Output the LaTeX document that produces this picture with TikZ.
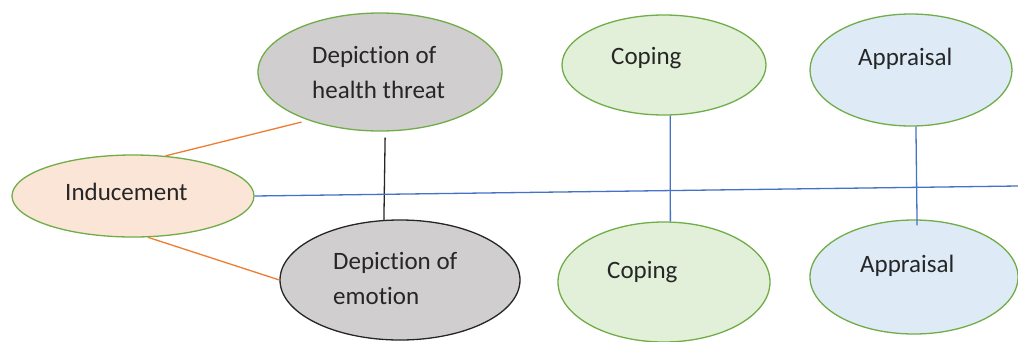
\documentclass[tikz,border=0pt]{standalone}
\usepackage{fontspec}
\setmainfont{Carlito}[Ligatures={NoCommon}]
\usetikzlibrary{shapes.geometric,calc}
\definecolor{egreen}{HTML}{70AD47}
\definecolor{peach}{HTML}{FBE5D6}
\definecolor{lgray}{HTML}{D0CECE}
\definecolor{lgreen}{HTML}{E2F0D9}
\definecolor{lblue}{HTML}{DEEBF7}
\definecolor{lorange}{HTML}{ED7D31}
\definecolor{lineblue}{HTML}{4472C4}
\tikzset{
  oval/.style={ellipse, draw=egreen, line width=1.3pt, inner sep=0pt},
  lbl/.style={anchor=base west, inner sep=0pt, font=\fontsize{25}{35}\selectfont, text=black!85, align=left},
  orangeline/.style={draw=lorange, line width=1.3pt},
  blueline/.style={draw=lineblue, line width=1.3pt},
  blackline/.style={draw=black!85, line width=1.3pt},
}
\begin{document}
\begin{tikzpicture}[x=1pt,y=-1pt]
\clip (0,0) rectangle (1018,341);
\fill[white] (0,0) rectangle (1018,341);
% ellipses
\node[oval, fill=peach, minimum width=242pt, minimum height=82pt] (ind) at (133,196) {};
\node[oval, fill=lgray, minimum width=244pt, minimum height=118pt] (ht) at (380,72) {};
\node[oval, fill=lgray, draw=black!85, minimum width=240pt, minimum height=120pt] (em) at (400,280) {};
\node[oval, fill=lgreen, minimum width=204pt, minimum height=100pt] (cpt) at (664,65) {};
\node[oval, fill=lblue, minimum width=202pt, minimum height=112pt] (apt) at (911,70) {};
\node[oval, fill=lgreen, minimum width=212pt, minimum height=120pt] (cpb) at (664,282) {};
\node[oval, fill=lblue, minimum width=208pt, minimum height=114pt] (apb) at (914,277) {};
% labels
\node[lbl] (tind) at (65,200) {Inducement};
\node[lbl] (tht) at (312,98) {Depiction of\\health threat};
\node[lbl] (tem) at (333,304) {Depiction of\\emotion};
\node[lbl] (tcpt) at (611,64) {Coping};
\node[lbl] (tapt) at (858,65) {Appraisal};
\node[lbl] (tcpb) at (607,278) {Coping};
\node[lbl] (tapb) at (860,272) {Appraisal};
% connectors
\coordinate (rightend) at (1018,186);
\draw[orangeline, shorten >=7pt] (ind.51) -- (ht.214);
\draw[orangeline] (ind.290) -- (em.west);
\draw[blackline, shorten <=6pt] (ht.275) -- (em.105);
\draw[blueline] (ind.east) -- (rightend);
\draw[blueline] (cpt.277) -- (cpb.84);
\draw[blueline, shorten >=-6pt] (apt.275) -- (apb.87);
\end{tikzpicture}
\end{document}
